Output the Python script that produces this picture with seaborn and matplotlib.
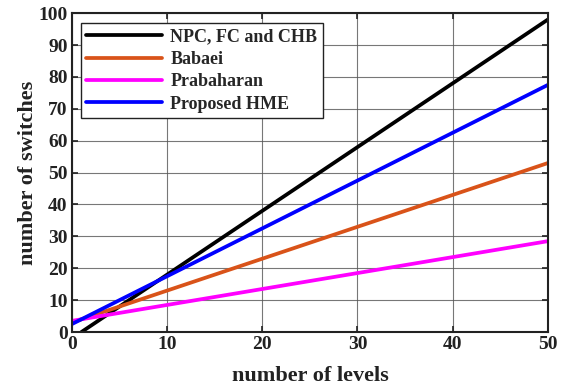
import matplotlib
matplotlib.use("Agg")
import matplotlib.pyplot as plt
import seaborn as sns
import pandas as pd

# Data
npc_x = [1, 50]
npc_y = [0, 98]
babaei_x = [0, 50]
babaei_y = [3, 53]
prab_x = [0, 50]
prab_y = [3.5, 28.5]
hme_x = [0, 50]
hme_y = [2.5, 77.5]

series_names = ["NPC, FC and CHB", "Babaei", "Prabaharan", "Proposed HME"]
colors = ["#000000", "#D95319", "#FF00FF", "#0000FF"]

x_ticks = [0, 10, 20, 30, 40, 50]
y_ticks = [0, 10, 20, 30, 40, 50, 60, 70, 80, 90, 100]

sns.set_theme(style="white")
plt.rcParams["font.family"] = ["Liberation Serif", "DejaVu Serif"]
plt.rcParams["font.weight"] = "bold"

frames = []
for name, xs, ys in zip(series_names,
                        [npc_x, babaei_x, prab_x, hme_x],
                        [npc_y, babaei_y, prab_y, hme_y]):
    frames.append(pd.DataFrame({"levels": xs, "switches": ys, "series": name}))
df = pd.concat(frames, ignore_index=True)

fig = plt.figure(figsize=(5.66, 3.87), dpi=100)
ax = fig.add_axes([0.127, 0.142, 0.841, 0.824])

sns.lineplot(data=df, x="levels", y="switches", hue="series",
             hue_order=series_names, palette=colors, linewidth=2.7,
             ax=ax, legend=True, sort=False, estimator=None)

ax.set_xlim(0, 50)
ax.set_ylim(0, 100)
ax.set_xticks(x_ticks)
ax.set_yticks(y_ticks)
ax.grid(True, color="#555555", linewidth=0.8, alpha=0.8)
ax.tick_params(direction="in", length=4, width=1.2, labelsize=14, colors="#222222",
               top=True, right=True, bottom=True, left=True, pad=3)
for lbl in ax.get_xticklabels() + ax.get_yticklabels():
    lbl.set_fontweight("bold")
    lbl.set_color("#222222")
for s in ax.spines.values():
    s.set_color("#222222")
    s.set_linewidth(1.5)
    s.set_visible(True)

ax.set_xlabel("number of levels", fontsize=16, fontweight="bold", color="#222222", labelpad=9)
ax.set_ylabel("number of switches", fontsize=16, fontweight="bold", color="#222222", labelpad=0)

leg = ax.legend(loc="upper left", bbox_to_anchor=(0.019, 0.969), borderaxespad=0,
                prop={"weight": "bold", "size": 13}, frameon=True, fancybox=False,
                edgecolor="#222222", framealpha=1, handlelength=4.2,
                borderpad=0.3, labelspacing=0.3, handletextpad=0.45)
leg.get_frame().set_linewidth(1.0)
for line in leg.get_lines():
    line.set_linewidth(2.7)

fig.savefig("out.png", dpi=100)
